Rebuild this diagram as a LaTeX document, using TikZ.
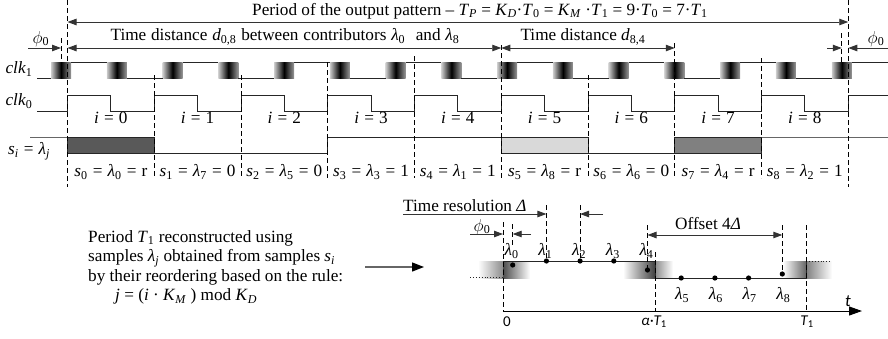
\documentclass[tikz,border=0pt]{standalone}
\usepackage{fontspec}
\setmainfont{Liberation Serif}
\newfontfamily\calfont{Carlito}
\usetikzlibrary{arrows.meta}
\newcommand{\iv}[1]{\textit{#1}}
\newcommand{\sbs}[1]{\textsubscript{#1}}
\newcommand{\eqs}{\hspace{0.3em}=\hspace{0.3em}}
\begin{document}
\begin{tikzpicture}[x=1pt,y=-1pt,
  font=\fontsize{17.2}{19.5}\selectfont,
  >={Triangle[length=9pt,width=6.5pt]},
  dline/.style={line width=0.8pt, dash pattern=on 5pt off 3pt},
  sig/.style={line width=0.9pt, black!85},
  arr/.style={line width=0.9pt, black!80, ->},
  darr/.style={line width=0.9pt, black!80, <->},
  lbl/.style={inner sep=0pt},
  cal/.style={inner sep=0pt, font=\calfont\fontsize{15}{17}\selectfont}
]
\useasboundingbox (0,0) rectangle (888,338);

% ---------- clk1 ----------
\foreach \m in {0,...,14} {
  \pgfmathsetmacro{\e}{61+55.768*\m}
  \shade[left color=black!20, right color=black!40, middle color=black] (\e-10,62) rectangle (\e+10,78);
}
\foreach \m in {0,...,13} {
  \pgfmathsetmacro{\a}{61+55.768*\m+10}
  \pgfmathsetmacro{\b}{61+55.768*(\m+1)-10}
  \pgfmathsetmacro{\yy}{ifthenelse(mod(\m,2)==0,62,78)}
  \draw[sig] (\a,\yy) -- (\b,\yy);
}
\draw[sig] (37,78) -- (51,78);
\draw[sig] (851.75,62) -- (888,62);

% ---------- clk0 ----------
\draw[sig] (37,111) \foreach \k in {0,...,8} { -- ({67.5+86.75*\k},111) -- ({67.5+86.75*\k},95) -- ({67.5+86.75*\k+43.375},95) -- ({67.5+86.75*\k+43.375},111) } -- (848.25,111) -- (848.25,95) -- (888,95);

% ---------- s_i ----------
\draw[sig, black!60] (30,137) -- (67.5,137);
\filldraw[sig, fill=black!65] (67.5,137) rectangle (154.25,153);
\draw[sig] (154.25,153) -- (327.75,153) -- (327.75,137) -- (501.25,137);
\filldraw[sig, fill=black!15] (501.25,137) rectangle (588,153);
\draw[sig] (588,153) -- (674.75,153);
\filldraw[sig, fill=black!50] (674.75,137) rectangle (761.5,153);
\draw[sig, black!60] (761.5,137) -- (888,137);

% ---------- dashed verticals ----------
\foreach \k/\ya/\yb in {0/0/187, 1/75/178, 2/75/178, 3/62/178, 4/56/178, 5/45/178, 6/75/178, 7/43/178, 8/58/178, 9/0/187} {
  \draw[dline] ({67.5+86.75*\k},\ya) -- ({67.5+86.75*\k},\yb);
}
\draw[dline] (61,38) -- (61,62);
\draw[dline] (841.75,33) -- (841.75,62);

% ---------- top arrows ----------
\coordinate (pS) at (67.5,22);
\coordinate (pE) at (848.25,22);
\draw[darr] (pS) -- (pE);
\coordinate (q0) at (28,48);
\coordinate (q1) at (61,48);
\coordinate (q2) at (67.5,48);
\coordinate (q3) at (501.25,48);
\coordinate (q4) at (674.75,48);
\coordinate (q5) at (827,48);
\coordinate (q6) at (841.75,48);
\coordinate (q7) at (888,48);
\coordinate (q8) at (848.25,48);
\draw[arr] (q0) -- (q1);
\draw[darr] (q2) -- (q3);
\draw[darr] (q3) -- (q4);
\draw[arr] (q5) -- (q6);
\draw[arr] (q7) -- (q8);

% ---------- top texts ----------
\node[lbl] (title) at (480,11) {Period of the output pattern – \iv{T}\sbs{\iv{P}} = \iv{K}\sbs{\iv{D}}·\iv{T}\sbs{0} = \iv{K}\sbs{\iv{M}} ·\iv{T}\sbs{1} = 9·\iv{T}\sbs{0} = 7·\iv{T}\sbs{1}};
\node[lbl] (d08) at (285,37) {\spaceskip=4.8pt plus 1pt Time distance \iv{d}\sbs{0,8} between contributors \iv{λ}\sbs{0}\,\, and \iv{λ}\sbs{8}};
\node[lbl] (d84) at (583,37) {Time distance \iv{d}\sbs{8,4}};
\node[lbl] (phiL) at (41,39) {$\phi$\sbs{0}};
\node[lbl] (phiR) at (876,39) {$\phi$\sbs{0}};
\node[lbl] (clkA) at (19,69) {\iv{clk}\sbs{1}};
\node[lbl] (clkB) at (19,101) {\iv{clk}\sbs{0}};
\node[lbl] (si) at (29,151) {\iv{s}\sbs{\iv{i}}\eqs\iv{λ}\sbs{\iv{j}}};

\foreach \k in {0,...,8} {
  \node[lbl] (i\k) at ({67.5+86.75*\k+43.375},118) {\iv{i}\eqs\k};
}
\foreach \k/\j/\v in {0/0/r,1/7/0,2/5/0,3/3/1,4/1/1,5/8/r,6/6/0,7/4/r,8/2/1} {
  \node[lbl] (s\k) at ({67.5+86.75*\k+43.375},172) {\iv{s}\sbs{\k}\eqs\iv{λ}\sbs{\j}\eqs\v};
}

% ---------- bottom left text ----------
\node[lbl, align=left, anchor=north west] (para) at (88,230) {Period \iv{T}\sbs{1} reconstructed using\\samples \iv{λ}\sbs{\iv{j}} obtained from samples \iv{s}\sbs{\iv{i}}\\by their reordering based on the rule:\\\hspace*{27pt}\iv{j} = (\iv{i} · \iv{K}\sbs{\iv{M}} ) mod \iv{K}\sbs{\iv{D}}};
\coordinate (ra) at (365,267);
\coordinate (rb) at (424,267);
\draw[line width=1.3pt, black!60, -{Triangle[length=12pt,width=9pt,black]}] (ra) -- (rb);

% ---------- bottom right: shading ----------
\shade[left color=white, right color=black!45] (478,261) rectangle (503,278);
\shade[left color=black!70, right color=white] (503,261) rectangle (530,278);
\shade[left color=white, right color=black!75] (623,261) rectangle (655,278);
\shade[left color=black!45, right color=white] (655,261) rectangle (673,278);
\shade[left color=white, right color=black!60] (783,261) rectangle (806,278);
\shade[left color=black!50, right color=white] (806,261) rectangle (832,278);

\draw[sig, dotted] (470,277) -- (503,277) -- (503,261);
\draw[sig] (503,261) -- (655,261) -- (655,278) -- (806,278) -- (806,261);
\draw[sig, dotted] (806,261) -- (832,261);

% dashed
\draw[dline] (503,222) -- (503,311);
\draw[dline] (512.7,224) -- (512.7,246);
\draw[dline] (546.4,205) -- (546.4,258);
\draw[dline] (580.1,205) -- (580.1,258);
\draw[dline] (647.5,225) -- (647.5,268);
\draw[dline] (655,252) -- (655,312);
\draw[dline] (782.3,225) -- (782.3,272);
\draw[dline] (806,225) -- (806,312);

% dots and lambda labels
\foreach \j/\yd in {0/265,1/261,2/261,3/261,4/270} {
  \fill ({512.7+33.7*\j},\yd) circle (2.6pt);
  \node[lbl] (la\j) at ({512.7+33.7*\j-1},251) {\iv{λ}\sbs{\j}};
}
\foreach \j/\yd in {5/278,6/278,7/278,8/274} {
  \fill ({512.7+33.7*\j},\yd) circle (2.6pt);
  \node[lbl] (la\j) at ({512.7+33.7*\j+1},295) {\iv{λ}\sbs{\j}};
}

% resolution and offsets
\node[lbl, anchor=south west] (tres) at (403,212) {Time resolution \iv{Δ}};
\coordinate (r1) at (403,214);
\coordinate (r2) at (546.4,214);
\coordinate (r3) at (603,214);
\coordinate (r4) at (580.1,214);
\draw[arr] (r1) -- (r2);
\draw[arr] (r3) -- (r4);

\node[lbl] (phiB) at (482,227) {$\phi$\sbs{0}};
\coordinate (f1) at (470,234);
\coordinate (f2) at (503,234);
\coordinate (f3) at (531,234);
\coordinate (f4) at (512.7,234);
\draw[arr] (f1) -- (f2);
\draw[arr] (f3) -- (f4);

\node[lbl] (off) at (708,224) {Offset 4\iv{Δ}};
\coordinate (o1) at (647.5,235);
\coordinate (o2) at (782.3,235);
\draw[darr] (o1) -- (o2);

% axis
\coordinate (ax0) at (503,311);
\coordinate (ax1) at (862,311);
\draw[line width=1pt, -{Triangle[length=13pt,width=9pt]}] (ax0) -- (ax1);
\node[cal] (tl) at (848,301) {\fontsize{17}{19}\selectfont\itshape t};
\node[cal] (z) at (507,322) {0};
\node[cal] (aT) at (654,322) {\itshape α·T\textsubscript{\upshape 1}};
\node[cal] (T1) at (807,322) {\itshape T\textsubscript{\upshape 1}};
\end{tikzpicture}
\end{document}
